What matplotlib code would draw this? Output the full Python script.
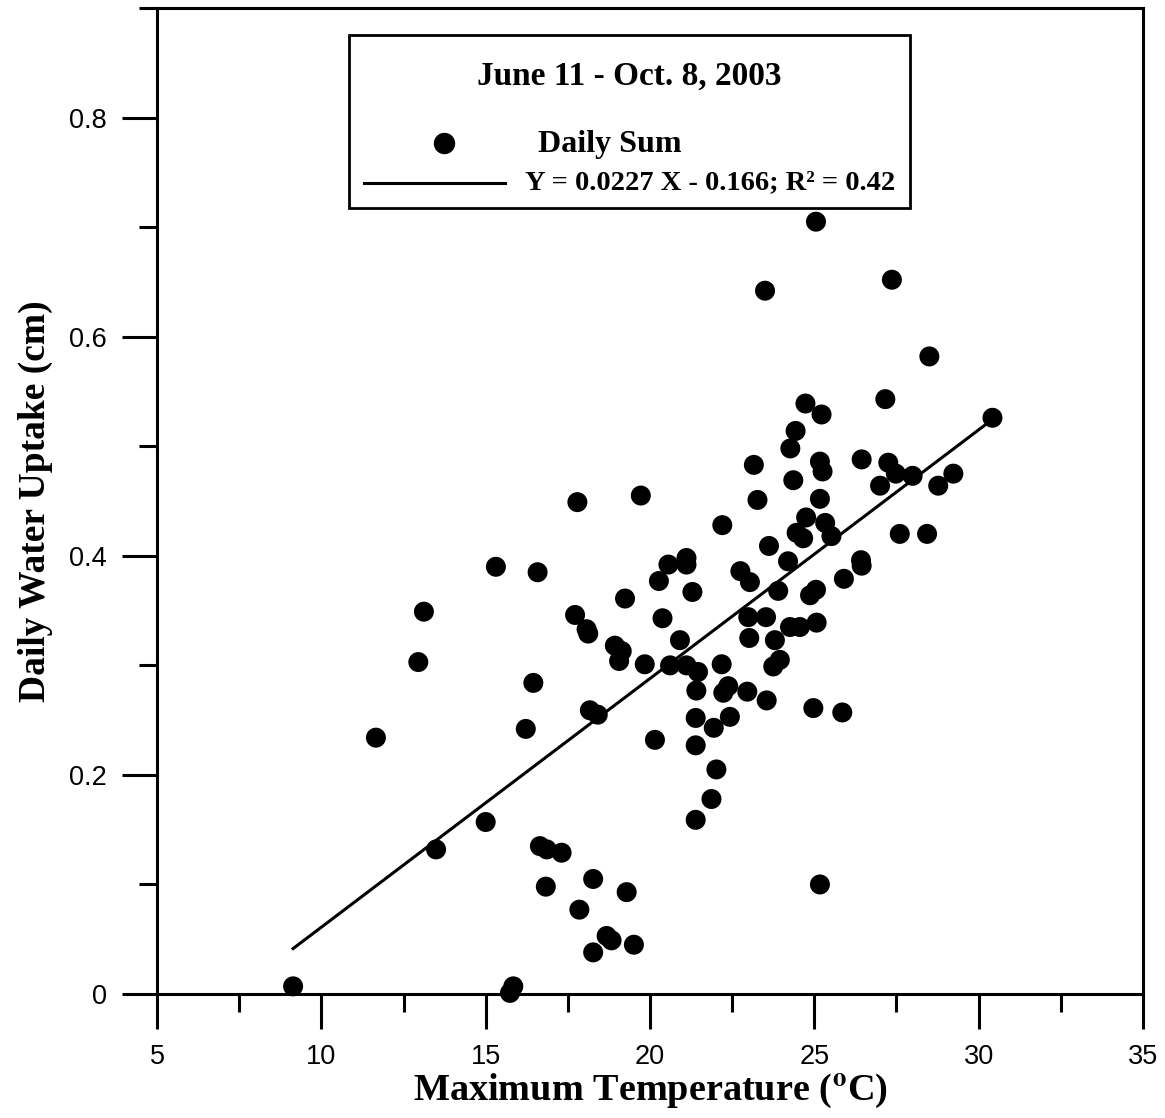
import numpy as np
import matplotlib
matplotlib.use("Agg")
import matplotlib.pyplot as plt
from matplotlib.patches import Rectangle
from matplotlib.lines import Line2D

# Daily water uptake vs maximum temperature, June 11 - Oct. 8, 2003
temp_max = [9.14, 11.66, 12.95, 13.12, 13.49, 15.00, 15.31, 15.74, 15.84, 16.22,
            16.45, 16.58, 16.65, 16.86, 16.83, 17.31, 17.72, 17.79, 17.85, 18.07,
            18.12, 18.17, 18.27, 18.27, 18.41, 18.68, 18.83, 18.93, 19.06, 19.14,
            19.24, 19.29, 19.51, 19.72, 19.84, 20.15, 20.27, 20.38, 20.56, 20.61,
            20.91, 21.11, 21.11, 21.11, 21.29, 21.46, 21.41, 21.39, 21.39, 21.39,
            21.87, 21.94, 22.02, 22.18, 22.20, 22.23, 22.38, 22.43, 22.75, 22.96,
            23.02, 22.99, 23.04, 23.16, 23.27, 23.50, 23.53, 23.55, 23.62, 23.75,
            23.80, 23.90, 23.95, 24.20, 24.26, 24.27, 24.36, 24.43, 24.46, 24.56,
            24.66, 24.73, 24.75, 24.87, 24.97, 25.05, 25.05, 25.07, 25.17, 25.17,
            25.22, 25.25, 25.17, 25.33, 25.52, 25.85, 25.90, 26.42, 26.44, 26.44,
            27.00, 27.16, 27.25, 27.36, 27.48, 27.60, 27.99, 28.43, 28.50, 28.77,
            29.23, 30.42]
uptake = [0.007, 0.234, 0.303, 0.349, 0.132, 0.157, 0.390, 0.001, 0.007, 0.242,
          0.284, 0.385, 0.135, 0.132, 0.098, 0.129, 0.346, 0.449, 0.077, 0.333,
          0.329, 0.259, 0.105, 0.038, 0.255, 0.053, 0.049, 0.318, 0.304, 0.313,
          0.361, 0.093, 0.045, 0.455, 0.301, 0.232, 0.377, 0.343, 0.392, 0.300,
          0.323, 0.398, 0.392, 0.300, 0.367, 0.294, 0.277, 0.252, 0.227, 0.159,
          0.178, 0.243, 0.205, 0.301, 0.428, 0.275, 0.281, 0.253, 0.386, 0.276,
          0.325, 0.344, 0.376, 0.483, 0.451, 0.642, 0.344, 0.268, 0.409, 0.299,
          0.323, 0.368, 0.305, 0.395, 0.335, 0.498, 0.469, 0.514, 0.421, 0.335,
          0.416, 0.539, 0.435, 0.364, 0.261, 0.369, 0.705, 0.339, 0.486, 0.452,
          0.529, 0.477, 0.100, 0.430, 0.418, 0.257, 0.379, 0.396, 0.391, 0.488,
          0.464, 0.543, 0.485, 0.652, 0.475, 0.420, 0.473, 0.420, 0.582, 0.464,
          0.475, 0.526]

# regression from the legend: Y = 0.0227 X - 0.166
slope = 0.0227
intercept = -0.166

serif = "Liberation Serif"
sans = "Liberation Sans"
plt.rcParams['mathtext.fontset'] = 'stix'

fig = plt.figure(figsize=(11.65, 11.18), dpi=100)
ax = fig.add_axes([0.1348, 0.1109, 0.8463, 0.8819])

x_fit = np.array([min(temp_max), max(temp_max)])
ax.plot(x_fit, slope * x_fit + intercept, color="black", lw=2.2, zorder=2)
ax.scatter(temp_max, uptake, s=207, color="black", edgecolors="none", zorder=3, clip_on=False)

ax.set_xlim(5, 35)
ax.set_ylim(0, 0.9)
ax.set_xticks([5, 10, 15, 20, 25, 30, 35])
ax.set_xticks(np.arange(7.5, 35, 5), minor=True)
ax.set_yticks([0, 0.2, 0.4, 0.6, 0.8])
ax.set_yticklabels(["0", "0.2", "0.4", "0.6", "0.8"])
ax.set_yticks([0.1, 0.3, 0.5, 0.7, 0.9], minor=True)

for sp in ax.spines.values():
    sp.set_linewidth(2.2)
ax.tick_params(which="major", direction="out", length=25, width=2.2, pad=11,
               labelsize=19.5, top=False, right=False)
ax.tick_params(which="minor", direction="out", length=13, width=2.2, top=False, right=False)
for lab in ax.get_xticklabels() + ax.get_yticklabels():
    lab.set_family(sans)

ax.set_xlabel(r"Maximum Temperature ($^{\mathbf{o}}$C)", family=serif, fontweight="bold",
              fontsize=27.5, labelpad=1)
ax.set_ylabel("Daily Water Uptake (cm)", family=serif, fontweight="bold", fontsize=27, labelpad=12)

# legend box drawn by hand
ax.add_patch(Rectangle((0.1947, 0.7972), 0.569, 0.1754, transform=ax.transAxes,
                       facecolor="white", edgecolor="black", lw=2, zorder=5))
ax.text(0.4787, 0.931, "June 11 - Oct. 8, 2003", transform=ax.transAxes, ha="center", va="center",
        family=serif, fontweight="bold", fontsize=24, zorder=6)
ax.add_line(Line2D([0.2911], [0.8631], transform=ax.transAxes, marker="o", markersize=14.4,
                   color="black", ls="none", zorder=6))
ax.text(0.3864, 0.862, "Daily Sum", transform=ax.transAxes, ha="left", va="center",
        family=serif, fontweight="bold", fontsize=23, zorder=6)
ax.add_line(Line2D([0.2099, 0.3529], [0.8225, 0.8225], transform=ax.transAxes,
                   color="black", lw=2.2, zorder=6))
ax.text(0.3732, 0.8225, "Y = 0.0227 X - 0.166; R² = 0.42", transform=ax.transAxes,
        ha="left", va="center", family=serif, fontweight="bold", fontsize=20.5, zorder=6)

fig.savefig("out.png", dpi=100)
